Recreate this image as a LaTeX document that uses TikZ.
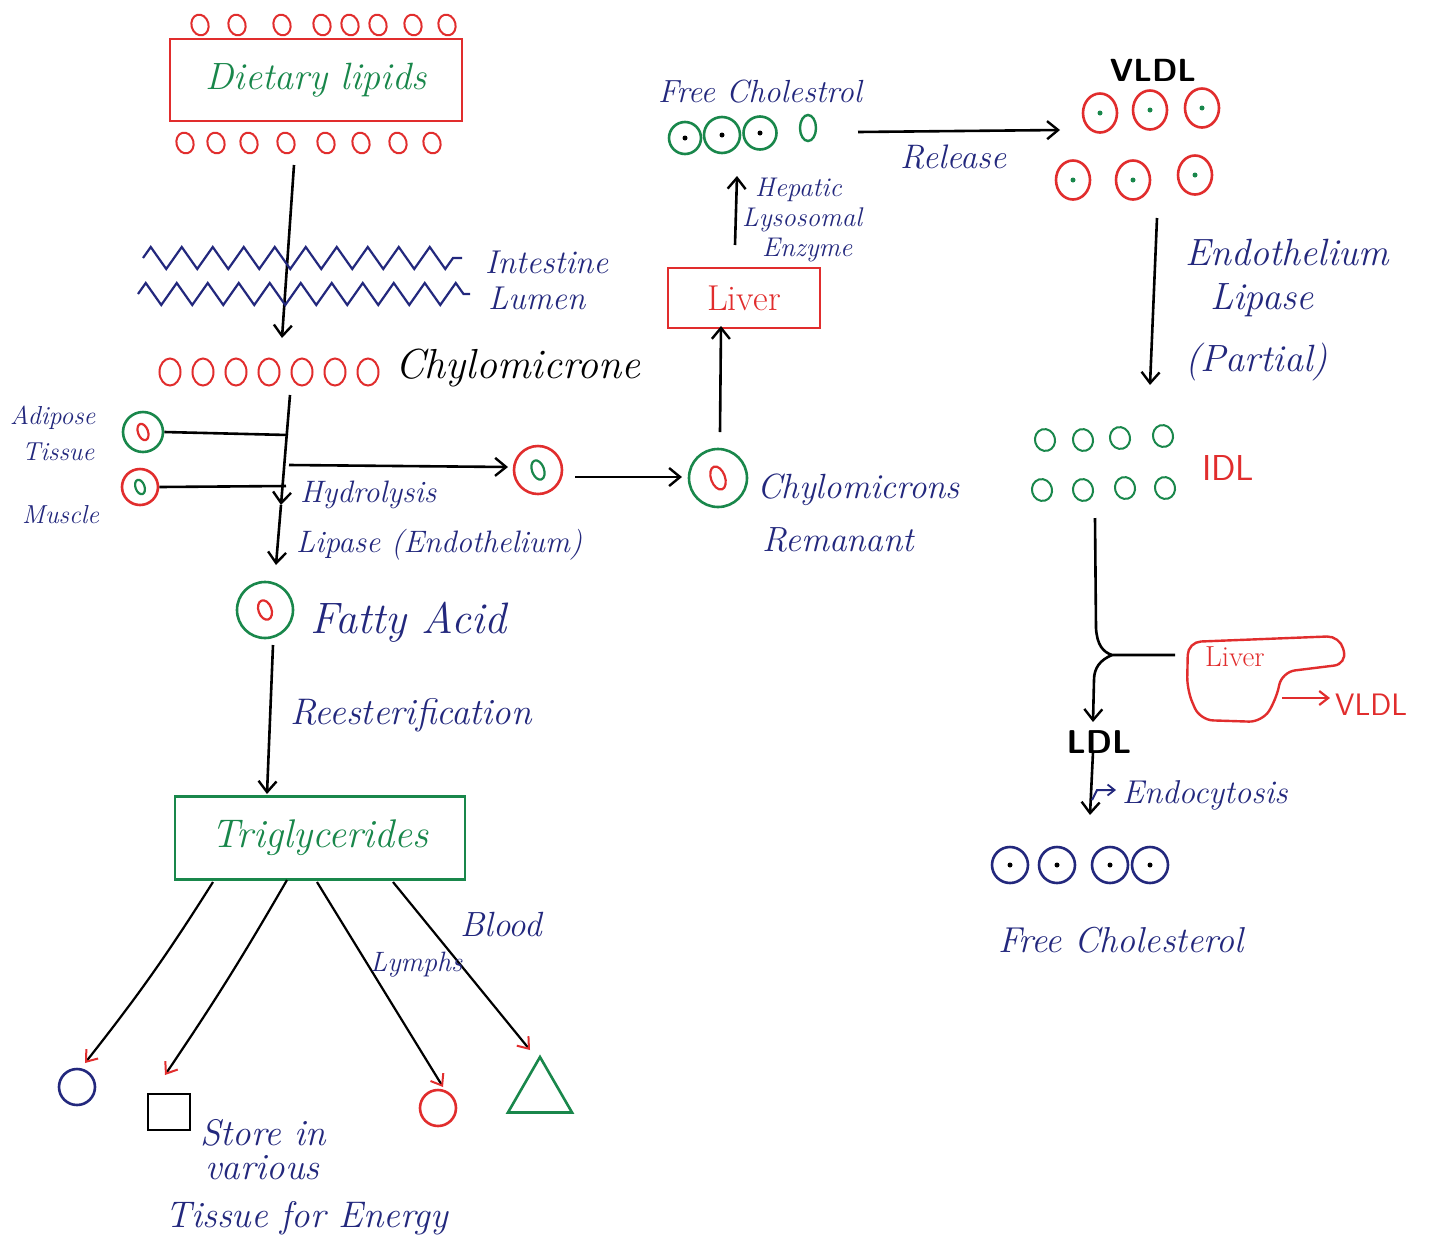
\documentclass[tikz,border=0pt]{standalone}
\usepackage{fontspec}
\usetikzlibrary{arrows.meta,shapes.geometric,decorations.pathmorphing}
\definecolor{penblue}{RGB}{35,40,125}
\definecolor{pengreen}{RGB}{25,135,75}
\definecolor{penred}{RGB}{225,45,45}
\newcommand{\fsz}[1]{\fontsize{#1}{#1}\selectfont}
\begin{document}
\begin{tikzpicture}[x=1pt,y=-1pt,
  ink/.style={line width=2.6pt,black},
  arr/.style={ink,-{Straight Barb[length=11pt,width=18pt,line width=2.4pt]}},
  rarr/.style={line width=2.2pt,black,-{Straight Barb[length=10pt,width=15pt,line width=2pt,color=penred]}},
  hand/.style={inner sep=0pt,text=penblue,anchor=west},
  ovr/.style={ellipse,draw=penred,line width=2pt,minimum width=17pt,minimum height=21pt,inner sep=0pt,rotate=15},
  ovg/.style={ellipse,draw=pengreen,line width=2pt,minimum width=20pt,minimum height=22pt,inner sep=0pt,rotate=15},
  ring/.style={circle,line width=2.6pt,inner sep=0pt},
  dot/.style={circle,fill=#1,inner sep=0pt,minimum size=5pt},
  inoval/.style={ellipse,line width=2.2pt,inner sep=0pt,minimum width=10pt,minimum height=17pt,rotate=20},
  boxr/.style={draw=penred,line width=2.6pt,inner sep=0pt}
]
\fill[white] (0,0) rectangle (1449,1259);
\useasboundingbox (0,0) rectangle (1449,1259);

% ---------- Dietary lipids ----------
\foreach \i/\x in {1/200,2/237,3/282,4/322,5/350,6/378,7/413,8/447}
  \node[ovr] (dt\i) at (\x,25) {};
\node[boxr,minimum width=292pt,minimum height=82pt,text=pengreen,font={\fsz{38}\itshape}] (diet) at (316,80) {Dietary lipids};
\foreach \i/\x in {1/185,2/216,3/249,4/286,5/326,6/361,7/398,8/432}
  \node[ovr] (db\i) at (\x,143) {};

\coordinate (a1s) at (294,165);
\coordinate (a1e) at (282,338);
\draw[arr] (a1s) -- (a1e);

\draw[penblue,line width=2.2pt,decorate,decoration={zigzag,segment length=31pt,amplitude=11pt}] (143,258) -- (462,258);
\draw[penblue,line width=2.2pt,decorate,decoration={zigzag,segment length=31pt,amplitude=11pt}] (138,294) -- (470,294);
\node[hand,font={\fsz{33}\itshape}] (intes) at (485,262) {Intestine};
\node[hand,font={\fsz{33}\itshape}] (lumen) at (488,298) {Lumen};

% ---------- Chylomicrone ----------
\foreach \i/\x in {1/170,2/203,3/236,4/269,5/302,6/335,7/368}
  \node[ovr,minimum width=21pt,minimum height=27pt,rotate=-15] (ch\i) at (\x,372) {};
\node[hand,text=black,font={\fsz{42}\itshape}] (chylo) at (395,368) {Chylomicrone};

\coordinate (c1) at (290,395);
\coordinate (cm) at (281,505);
\coordinate (c2) at (276,565);
\draw[arr] (c1) -- (cm);
\draw[arr] (cm) -- (c2);

% adipose / muscle
\node[ring,draw=pengreen,minimum size=40pt] (adi) at (143,432) {};
\node[inoval,draw=penred] (adiin) at (adi) {};
\node[hand,font={\fsz{26}\itshape}] (adit1) at (10,418) {Adipose};
\node[hand,font={\fsz{26}\itshape}] (adit2) at (22,452) {Tissue};
\coordinate (cadi) at (288,435);
\draw[ink] (adi.east) -- (cadi);

\node[ring,draw=penred,minimum size=36pt] (mus) at (140,487) {};
\node[inoval,draw=pengreen,minimum width=9pt,minimum height=15pt] (musin) at (mus) {};
\node[hand,font={\fsz{26}\itshape}] (must) at (22,515) {Muscle};
\coordinate (cmus) at (286,486);
\draw[ink] (mus.east) -- (cmus);

% hydrolysis branch
\coordinate (hbr) at (289,465);
\node[ring,draw=penred,minimum size=48pt] (hfa) at (538,470) {};
\node[inoval,draw=pengreen,minimum width=12pt,minimum height=20pt] (hfain) at (hfa) {};
\coordinate (hfaw) at (508,467);
\draw[arr] (hbr) -- (hfaw);
\node[hand,font={\fsz{31}\itshape}] (hyd) at (300,495) {Hydrolysis};
\node[hand,font={\fsz{31}\itshape}] (lip) at (296,545) {Lipase (Endothelium)};

\node[ring,draw=pengreen,minimum size=58pt] (rem) at (718,478) {};
\node[inoval,draw=penred,minimum width=14pt,minimum height=24pt] (remin) at (rem) {};
\coordinate (r1) at (575,477);
\coordinate (r2) at (682,477);
\draw[arr] (r1) -- (r2);
\node[hand,font={\fsz{35}\itshape}] (chyr1) at (757,490) {Chylomicrons};
\node[hand,font={\fsz{35}\itshape}] (chyr2) at (762,540) {Remanant};

% liver
\node[boxr,minimum width=152pt,minimum height=60pt,text=penred,font={\fsz{36}}] (liver) at (744,298) {Liver};
\coordinate (lu1) at (720,432);
\coordinate (lu2) at (721,326);
\draw[arr] (lu1) -- (lu2);
\coordinate (hp1) at (735,245);
\coordinate (hp2) at (737,176);
\draw[arr] (hp1) -- (hp2);
\node[hand,font={\fsz{27}\itshape}] (hep1) at (755,190) {Hepatic};
\node[hand,font={\fsz{27}\itshape}] (hep2) at (742,220) {Lysosomal};
\node[hand,font={\fsz{27}\itshape}] (hep3) at (762,250) {Enzyme};

% free cholestrol (top)
\node[hand,font={\fsz{32}\itshape}] (fct) at (658,92) {Free Cholestrol};
\foreach \i/\x/\y/\s in {1/685/138/32,2/722/135/36,3/760/133/33}{
  \node[ring,draw=pengreen,minimum size=\s pt] (fc\i) at (\x,\y) {};
  \node[dot=black] (fcd\i) at (fc\i) {};
}
\node[ellipse,draw=pengreen,line width=2.4pt,minimum width=16pt,minimum height=26pt,inner sep=0pt] (fc4) at (808,128) {};

\coordinate (rel1) at (858,132);
\coordinate (rel2) at (1060,130);
\draw[arr] (rel1) -- (rel2);
\node[hand,font={\fsz{34}\itshape}] (rele) at (900,157) {Release};

% VLDL
\node[inner sep=0pt,font={\fsz{32}\sffamily\bfseries}] (vldl) at (1153,70) {VLDL};
\foreach \i/\x/\y in {1/1100/113,2/1150/110,3/1202/108,4/1073/180,5/1133/180,6/1195/175}{
  \node[ellipse,draw=penred,line width=2.6pt,minimum width=34pt,minimum height=39pt,inner sep=0pt] (v\i) at (\x,\y) {};
  \node[dot=pengreen] (vd\i) at (v\i) {};
}
\coordinate (e1) at (1157,218);
\coordinate (e2) at (1150,385);
\draw[arr] (e1) -- (e2);
\node[hand,font={\fsz{38}\itshape}] (endo1) at (1185,252) {Endothelium};
\node[hand,font={\fsz{38}\itshape}] (endo2) at (1210,300) {Lipase};
\node[hand,font={\fsz{38}\itshape}] (endo3) at (1185,362) {(Partial)};

% IDL
\foreach \i/\x/\y in {1/1045/440,2/1083/440,3/1120/438,4/1163/436,5/1042/490,6/1083/490,7/1125/488,8/1165/488}
  \node[ovg] (idl\i) at (\x,\y) {};
\node[hand,text=penred,font={\fsz{36}\sffamily}] (idlt) at (1202,468) {IDL};

\coordinate (j1) at (1095,518);
\coordinate (jc) at (1096,628);
\coordinate (j2) at (1112,655);
\coordinate (j3) at (1175,655);
\coordinate (jd) at (1094,680);
\coordinate (j4) at (1093,722);
\draw[ink] (j1) -- (jc) .. controls (1097,645) and (1103,652) .. (j2) -- (j3);
\draw[arr] (j2) .. controls (1100,660) and (1094,668) .. (jd) -- (j4);

% liver blob
\draw[penred,line width=2.4pt,rounded corners=13pt]
  (1188,642) -- (1340,636) -- (1347,664) -- (1282,672) -- (1276,700)
  -- (1262,722) -- (1200,720) -- (1187,690) -- cycle;
\node[hand,text=penred,font={\fsz{29}}] (livt) at (1205,657) {Liver};
\coordinate (lv1) at (1282,698);
\coordinate (lv2) at (1330,698);
\draw[penred,line width=2.4pt,-{Straight Barb[length=9pt,width=14pt,line width=2.2pt]}] (lv1) -- (lv2);
\node[hand,text=penred,font={\fsz{31}\sffamily}] (vldl2) at (1335,705) {VLDL};

% LDL
\node[inner sep=0pt,font={\fsz{33}\sffamily\bfseries}] (ldl) at (1099,742) {LDL};
\coordinate (l1) at (1093,752);
\coordinate (l2) at (1090,815);
\draw[arr] (l1) -- (l2);
\coordinate (hk1) at (1092,800);
\coordinate (hk2) at (1097,790);
\coordinate (hk3) at (1116,790);
\draw[penblue,line width=2pt,-{Straight Barb[length=7pt,width=11pt,line width=1.8pt]}] (hk1) -- (hk2) -- (hk3);
\node[hand,font={\fsz{33}\itshape}] (endoc) at (1122,795) {Endocytosis};

\foreach \i/\x in {1/1010,2/1057,3/1110,4/1150}{
  \node[ring,draw=penblue,minimum size=36pt] (bf\i) at (\x,865) {};
  \node[dot=black] (bfd\i) at (bf\i) {};
}
\node[hand,font={\fsz{36}\itshape}] (bft) at (998,940) {Free Cholesterol};

% ---------- Fatty acid ----------
\node[ring,draw=pengreen,minimum size=56pt] (fa) at (265,610) {};
\node[inoval,draw=penred,minimum width=13pt,minimum height=20pt] (fain) at (fa) {};
\node[hand,font={\fsz{44}\itshape}] (fat) at (310,622) {Fatty Acid};

\node[draw=pengreen,line width=2.6pt,minimum width=290pt,minimum height=83pt,inner sep=0pt,text=pengreen,font={\fsz{40}\itshape}] (tri) at (320,838) {Triglycerides};
\coordinate (t1) at (273,645);
\coordinate (t2) at (267,794);
\draw[arr] (t1) -- (t2);
\node[hand,font={\fsz{37}\itshape}] (rees) at (290,715) {Reesterification};

% bottom destinations
\node[ring,draw=penblue,minimum size=36pt] (bc1) at (77,1087) {};
\node[draw=black,line width=2.6pt,minimum width=42pt,minimum height=36pt,inner sep=0pt] (sq) at (169,1112) {};
\node[ring,draw=penred,minimum size=36pt] (rc) at (438,1108) {};
\node[regular polygon,regular polygon sides=3,draw=pengreen,line width=2.6pt,minimum size=74pt,inner sep=0pt] (trg) at (540,1094) {};

\coordinate (b1s) at (213,882);
\coordinate (b1e) at (85,1063);
\coordinate (b2s) at (287,880);
\coordinate (b2e) at (165,1075);
\coordinate (b3s) at (317,882);
\coordinate (b3e) at (443,1087);
\coordinate (b4s) at (393,882);
\coordinate (b4e) at (530,1050);
\draw[rarr] (b1s) to[bend left=3] (b1e);
\draw[rarr] (b2s) to[bend left=2] (b2e);
\draw[rarr] (b3s) -- (b3e);
\draw[rarr] (b4s) -- (b4e);

\node[hand,font={\fsz{35}\itshape}] (blood) at (460,925) {Blood};
\node[hand,font={\fsz{28}\itshape}] (lymph) at (370,965) {Lymphs};
\node[hand,font={\fsz{37}\itshape}] (st1) at (200,1133) {Store in};
\node[hand,font={\fsz{37}\itshape}] (st2) at (205,1168) {various};
\node[hand,font={\fsz{37}\itshape}] (st3) at (165,1218) {Tissue for Energy};
\end{tikzpicture}
\end{document}
